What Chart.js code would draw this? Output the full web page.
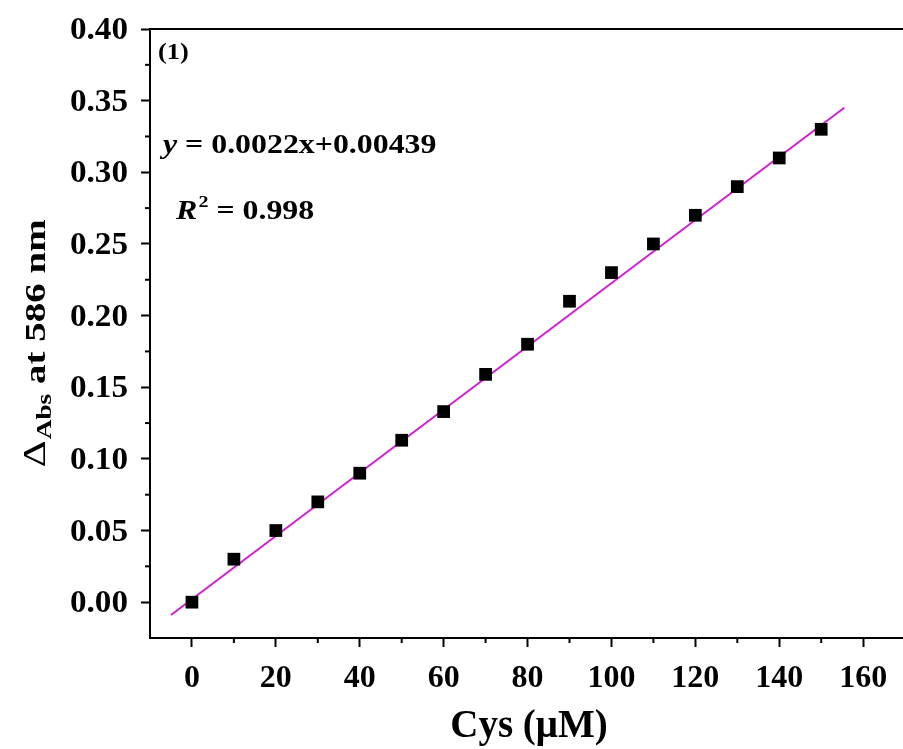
<!DOCTYPE html>
<html>
<head>
<meta charset="utf-8">
<script src="https://cdn.jsdelivr.net/npm/chart.js@4"></script>
<style>
  html, body { margin: 0; padding: 0; background: #fff; }
  #wrap { width: 903px; height: 749px; }
</style>
</head>
<body>
<div id="wrap"><canvas id="absChart" width="903" height="749"></canvas></div>
<script>
// measured points
const cysConc = [0, 10, 20, 30, 40, 50, 60, 70, 80, 90, 100, 110, 120, 130, 140, 150];
const deltaAbs = [0, 0.03, 0.05, 0.07, 0.09, 0.113, 0.133, 0.159, 0.18, 0.21, 0.23, 0.25, 0.27, 0.29, 0.31, 0.33];
// fitted line end points
const fitX = [-5, 155.5];
const fitY = [-0.009, 0.345];

const xTicks = [0, 20, 40, 60, 80, 100, 120, 140, 160];
const yTicks = [0, 0.05, 0.1, 0.15, 0.2, 0.25, 0.3, 0.35, 0.4];

const SERIF = '"Liberation Serif", "Times New Roman", serif';

// draw a run of text pieces, stretched horizontally by sx
function drawRun(ctx, parts, x, y, sx, align) {
    let total = 0;
    parts.forEach(p => { ctx.font = p.font; p.w = ctx.measureText(p.t).width; total += p.w; });
    let start = x;
    if (align === 'center') start = x - total * sx / 2;
    if (align === 'right') start = x - total * sx;
    ctx.save();
    ctx.translate(start, y);
    ctx.scale(sx, 1);
    ctx.textAlign = 'left';
    ctx.textBaseline = 'alphabetic';
    let cx = 0;
    parts.forEach(p => {
        ctx.font = p.font;
        ctx.fillText(p.t, cx + (p.dx || 0), p.dy || 0);
        cx += p.w + (p.dx || 0);
    });
    ctx.restore();
}

const decorPlugin = {
    id: 'decor',
    afterDraw(chart) {
        const ctx = chart.ctx;
        const area = chart.chartArea;
        const xs = chart.scales.x, ys = chart.scales.y;
        ctx.save();
        ctx.strokeStyle = '#000';
        ctx.lineWidth = 2;
        // top frame line
        ctx.beginPath();
        ctx.moveTo(area.left - 1, area.top);
        ctx.lineTo(area.right, area.top);
        ctx.stroke();
        // minor ticks
        for (let v = 10; v < 170; v += 20) {
            const px = xs.getPixelForValue(v);
            ctx.beginPath();
            ctx.moveTo(px, area.bottom);
            ctx.lineTo(px, area.bottom + 5);
            ctx.stroke();
        }
        for (let i = 0; i < yTicks.length - 1; i++) {
            const py = ys.getPixelForValue((yTicks[i] + yTicks[i + 1]) / 2);
            ctx.beginPath();
            ctx.moveTo(area.left, py);
            ctx.lineTo(area.left - 5, py);
            ctx.stroke();
        }
        ctx.fillStyle = '#000';

        // tick labels
        const tickFont = 'bold 31px ' + SERIF;
        yTicks.forEach(v => {
            drawRun(ctx, [{ t: v.toFixed(2), font: tickFont }], 128, ys.getPixelForValue(v) + 10, 1.07, 'right');
        });
        const xFont = 'bold 32px ' + SERIF;
        xTicks.forEach(v => {
            drawRun(ctx, [{ t: String(v), font: xFont }], xs.getPixelForValue(v), 687, 1.0, 'center');
        });

        // x title
        drawRun(ctx, [{ t: 'Cys (μM)', font: 'bold 39px ' + SERIF }], 529, 737, 1.0, 'center');

        // y title with subscript
        ctx.save();
        ctx.translate(45, 344);
        ctx.rotate(-Math.PI / 2);
        drawRun(ctx, [
            { t: 'Δ', font: '32px ' + SERIF },
            { t: 'Abs', font: 'bold 21px ' + SERIF, dy: 6, dx: 1 },
            { t: ' at 586 nm', font: 'bold 30px ' + SERIF }
        ], 0, 0, 1.3, 'center');
        ctx.restore();

        // annotations
        drawRun(ctx, [{ t: '(1)', font: 'bold 24px ' + SERIF }], 158, 59, 1.1, 'left');
        drawRun(ctx, [
            { t: 'y', font: 'bold italic 27px ' + SERIF },
            { t: ' = 0.0022x+0.00439', font: 'bold 27px ' + SERIF }
        ], 163, 153, 1.18, 'left');
        drawRun(ctx, [
            { t: 'R', font: 'bold italic 27px ' + SERIF },
            { t: '2', font: 'bold 17px ' + SERIF, dy: -12, dx: 1 },
            { t: ' = 0.998', font: 'bold 27px ' + SERIF }
        ], 176, 219, 1.18, 'left');
        ctx.restore();
    }
};

new Chart(document.getElementById('absChart'), {
    type: 'scatter',
    data: {
        datasets: [
            {
                label: 'fit',
                data: fitX.map((x, i) => ({ x: x, y: fitY[i] })),
                showLine: true,
                borderColor: '#d21ed2',
                borderWidth: 2,
                pointRadius: 0,
                order: 2
            },
            {
                label: 'data',
                data: cysConc.map((x, i) => ({ x: x, y: deltaAbs[i] })),
                pointStyle: 'rect',
                pointRadius: 9,
                backgroundColor: '#000',
                borderColor: '#000',
                borderWidth: 0,
                order: 1
            }
        ]
    },
    options: {
        responsive: false,
        animation: false,
        layout: { autoPadding: false, padding: { top: 29, right: 0, left: 0, bottom: 0 } },
        plugins: {
            legend: { display: false },
            tooltip: { enabled: false }
        },
        scales: {
            x: {
                type: 'linear',
                min: -10,
                max: 169.5,
                afterBuildTicks: (s) => { s.ticks = xTicks.map(v => ({ value: v })); },
                afterFit: (s) => { s.height = 111; },
                border: { display: true, color: '#000', width: 2 },
                grid: { drawOnChartArea: false, drawTicks: true, tickLength: 9, tickWidth: 2, tickColor: '#000' },
                ticks: { display: false }
            },
            y: {
                type: 'linear',
                min: -0.025,
                max: 0.4,
                afterBuildTicks: (s) => { s.ticks = yTicks.map(v => ({ value: v })); },
                afterFit: (s) => { s.width = 150; },
                border: { display: true, color: '#000', width: 2 },
                grid: { drawOnChartArea: false, drawTicks: true, tickLength: 9, tickWidth: 2, tickColor: '#000' },
                ticks: { display: false }
            }
        }
    },
    plugins: [decorPlugin]
});
</script>
</body>
</html>
